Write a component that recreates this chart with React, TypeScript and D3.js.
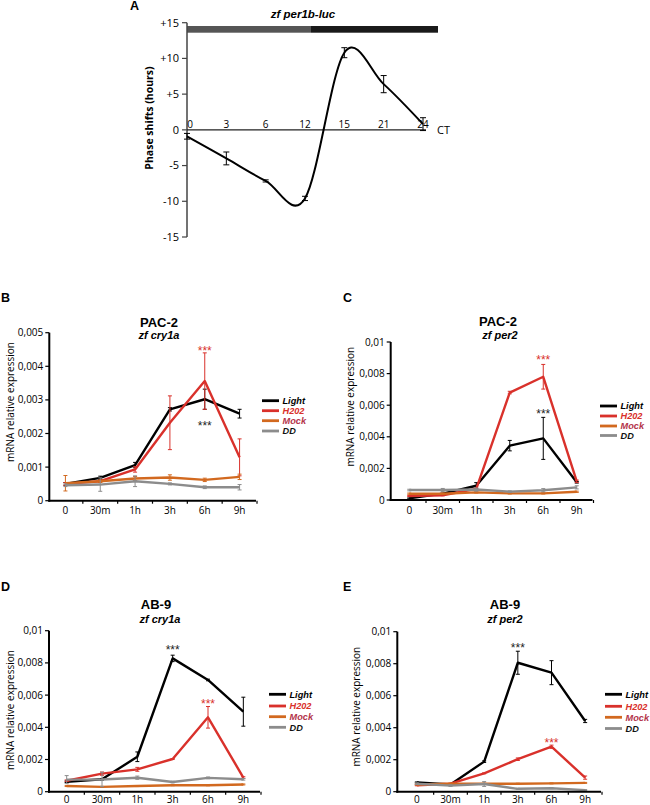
import React from "react";
import * as d3 from "d3";

// ---------- Panel A data ----------
const CT_LABELS = ["0", "3", "6", "12", "15", "21", "24"];
const PHASE_SHIFT = [-0.9, -4.0, -7.15, -9.6, 10.8, 6.4, 0.8];
const PHASE_ERR = [0.4, 0.9, 0.15, 0.3, 0.7, 1.2, 0.9];
const A_TICKS = [15, 10, 5, 0, -5, -10, -15];

// ---------- Panels B-E data ----------
const TIME_LABELS = ["0", "30m", "1h", "3h", "6h", "9h"];
const SERIES_NAMES = ["Light", "H202", "Mock", "DD"];

const B_LIGHT = [0.0005, 0.00068, 0.00106, 0.00272, 0.00302, 0.00259];
const B_LIGHT_ERR = [0.00004, 0.00005, 0.00008, 0.00005, 0.0003, 0.00013];
const B_H2O2 = [0.0005, 0.00058, 0.00093, 0.00232, 0.00356, 0.00129];
const B_H2O2_ERR = [0.00004, 0.00003, 0.00008, 0.0008, 0.00084, 0.00055];
const B_MOCK = [0.00052, 0.00058, 0.00066, 0.00069, 0.00062, 0.00071];
const B_MOCK_ERR = [0.00023, 0.00004, 0.00006, 0.00008, 0.00005, 0.00008];
const B_DD = [0.00046, 0.00048, 0.00058, 0.0005, 0.0004, 0.0004];
const B_DD_ERR = [0.00004, 0.0002, 0.00016, 0.00003, 0.00004, 0.00008];

const C_LIGHT = [0.0001, 0.0004, 0.0009, 0.00344, 0.0039, 0.00112];
const C_LIGHT_ERR = [0.00003, 0.00003, 0.0002, 0.00033, 0.00133, 0.00005];
const C_H2O2 = [0.00025, 0.0003, 0.0007, 0.0068, 0.0078, 0.00118];
const C_H2O2_ERR = [0.00003, 0.00003, 0.00005, 0.00008, 0.00078, 0.00008];
const C_MOCK = [0.0004, 0.0004, 0.00048, 0.00042, 0.00042, 0.00052];
const C_MOCK_ERR = [0.00004, 0.00004, 0.00004, 0.00004, 0.00004, 0.00004];
const C_DD = [0.00063, 0.00063, 0.00066, 0.00053, 0.00062, 0.0008];
const C_DD_ERR = [0.00005, 0.0001, 0.0001, 0.00005, 0.0001, 0.0001];

const D_LIGHT = [0.00062, 0.00077, 0.00217, 0.00828, 0.00694, 0.00497];
const D_LIGHT_ERR = [0.00005, 0.00005, 0.0003, 0.0002, 0.00005, 0.0009];
const D_H2O2 = [0.00068, 0.00112, 0.00139, 0.00203, 0.00462, 0.00088];
const D_H2O2_ERR = [0.00005, 0.0001, 0.00012, 0.00003, 0.00067, 0.00005];
const D_MOCK = [0.00035, 0.0003, 0.00035, 0.0004, 0.0004, 0.00045];
const D_MOCK_ERR = [0.00003, 0.00003, 0.00003, 0.00003, 0.00003, 0.00003];
const D_DD = [0.00075, 0.00076, 0.00087, 0.0006, 0.00086, 0.00077];
const D_DD_ERR = [0.00025, 0.00045, 0.0001, 0.00005, 0.00005, 0.00005];

const E_LIGHT = [0.00058, 0.00045, 0.00188, 0.00806, 0.00744, 0.00442];
const E_LIGHT_ERR = [0.00003, 0.00003, 0.00005, 0.00072, 0.00075, 0.0001];
const E_H2O2 = [0.0004, 0.0005, 0.00115, 0.00203, 0.00281, 0.00088];
const E_H2O2_ERR = [0.00003, 0.00003, 0.00003, 0.00008, 0.0001, 0.0001];
const E_MOCK = [0.00045, 0.0005, 0.0005, 0.0005, 0.00052, 0.00055];
const E_MOCK_ERR = [0.00003, 0.00003, 0.00003, 0.00003, 0.00003, 0.00003];
const E_DD = [0.0005, 0.00038, 0.00048, 0.00018, 0.00022, 0.0001];
const E_DD_ERR = [0.00005, 0.00005, 0.00015, 0.00003, 0.00003, 0.00003];

// ---------- styles ----------
const SERIES_COLORS = ["#000000", "#d9312b", "#d2691f", "#8c8c8c"];
const LEGEND_TEXT_COLORS = ["#000000", "#d9312b", "#b3344a", "#111111"];
const SANS = "'Open Sans', sans-serif";
const HELV = "'Liberation Sans', Arial, sans-serif";

type Panel = {
  letter: string;
  letterX: number;
  letterY: number;
  title: string;
  gene: string;
  titleX: number;
  titleY: number;
  geneX: number;
  geneY: number;
  xRange: [number, number];
  axisX: number;
  yMax: number;
  yStep: number;
  yRange: [number, number];
  labelX: number;
  labelCY: number;
  tickLabelY: number;
  legendX: number;
  legendYs: number[];
  series: number[][];
  errors: number[][];
  stars: { series: number; idx: number; y: number }[];
};

const PANELS: Panel[] = [
  {
    letter: "B", letterX: 1, letterY: 302,
    title: "PAC-2", gene: "zf cry1a", titleX: 159, titleY: 327, geneX: 159, geneY: 339,
    xRange: [48, 257], axisX: 49.3, yMax: 0.005, yStep: 0.001, yRange: [500.7, 332.7],
    labelX: 10, labelCY: 402, tickLabelY: 514, legendX: 262,
    legendYs: [400.7, 410.7, 420.7, 431],
    series: [B_LIGHT, B_H2O2, B_MOCK, B_DD],
    errors: [B_LIGHT_ERR, B_H2O2_ERR, B_MOCK_ERR, B_DD_ERR],
    stars: [{ series: 1, idx: 4, y: 348.5 }, { series: 0, idx: 4, y: 423.5 }],
  },
  {
    letter: "C", letterX: 343, letterY: 302,
    title: "PAC-2", gene: "zf per2", titleX: 498, titleY: 326, geneX: 500, geneY: 339,
    xRange: [392.5, 593.5], axisX: 390.7, yMax: 0.01, yStep: 0.002, yRange: [500, 342],
    labelX: 350, labelCY: 406.7, tickLabelY: 514, legendX: 600,
    legendYs: [406, 416, 426, 435.5],
    series: [C_LIGHT, C_H2O2, C_MOCK, C_DD],
    errors: [C_LIGHT_ERR, C_H2O2_ERR, C_MOCK_ERR, C_DD_ERR],
    stars: [{ series: 1, idx: 4, y: 357.5 }, { series: 0, idx: 4, y: 411 }],
  },
  {
    letter: "D", letterX: 1, letterY: 591,
    title: "AB-9", gene: "zf cry1a", titleX: 156, titleY: 609, geneX: 160, geneY: 623,
    xRange: [49, 261], axisX: 49, yMax: 0.01, yStep: 0.002, yRange: [791.7, 630.7],
    labelX: 10, labelCY: 710, tickLabelY: 802.5, legendX: 269,
    legendYs: [694.3, 706, 716.7, 727.3],
    series: [D_LIGHT, D_H2O2, D_MOCK, D_DD],
    errors: [D_LIGHT_ERR, D_H2O2_ERR, D_MOCK_ERR, D_DD_ERR],
    stars: [{ series: 0, idx: 3, y: 647.5 }, { series: 1, idx: 4, y: 701 }],
  },
  {
    letter: "E", letterX: 343, letterY: 591,
    title: "AB-9", gene: "zf per2", titleX: 505, titleY: 609, geneX: 505, geneY: 623,
    xRange: [400, 602], axisX: 397.3, yMax: 0.01, yStep: 0.002, yRange: [791.7, 631.7],
    labelX: 356, labelCY: 706.7, tickLabelY: 802.5, legendX: 605,
    legendYs: [694.3, 706.3, 717.3, 728.5],
    series: [E_LIGHT, E_H2O2, E_MOCK, E_DD],
    errors: [E_LIGHT_ERR, E_H2O2_ERR, E_MOCK_ERR, E_DD_ERR],
    stars: [{ series: 0, idx: 3, y: 645 }, { series: 1, idx: 4, y: 740 }],
  },
];

const fmtTick = (v: number) =>
  v === 0 ? "0" : d3.format(".3~f")(v).replace(".", ",");

function Stars({ x, y, color }: { x: number; y: number; color: string }) {
  const fs = 12;
  return (
    <text x={x} y={y + fs * 0.55} textAnchor="middle" fontFamily={HELV} fontSize={fs} fill={color}>
      ***
    </text>
  );
}

function ExprPanel({ p }: { p: Panel }) {
  const x = d3.scaleBand<string>().domain(TIME_LABELS).range(p.xRange);
  const cx = (i: number) => (x(TIME_LABELS[i]) as number) + x.bandwidth() / 2;
  const y = d3.scaleLinear().domain([0, p.yMax]).range(p.yRange);
  const ticks = d3.range(0, p.yMax + p.yStep / 2, p.yStep);
  const line = d3
    .line<number>()
    .x((_, i) => cx(i))
    .y((d) => y(d));
  const x0 = p.xRange[0];
  const x1 = p.xRange[1];
  const yb = p.yRange[0];
  const boundaries = TIME_LABELS.map((_, i) => x0 + x.step() * (i + 1));
  return (
    <g>
      <text x={p.letterX} y={p.letterY} fontFamily={HELV} fontWeight="bold" fontSize={12.5}>
        {p.letter}
      </text>
      <text x={p.titleX} y={p.titleY} textAnchor="middle" fontFamily={HELV} fontWeight="bold" fontSize={13}>
        {p.title}
      </text>
      <text x={p.geneX} y={p.geneY} textAnchor="middle" fontFamily={HELV} fontWeight="bold" fontStyle="italic" fontSize={11}>
        {p.gene}
      </text>
      <text
        transform={`translate(${p.labelX},${p.labelCY}) rotate(-90)`}
        textAnchor="middle"
        dy="0.35em"
        fontFamily={SANS}
        fontSize={10}
      >
        mRNA relative expression
      </text>
      {/* y ticks */}
      {ticks.map((t) => (
        <g key={t}>
          <line x1={p.axisX - 4} x2={p.axisX} y1={y(t)} y2={y(t)} stroke="#000" strokeWidth={1.2} />
          <text x={p.axisX - 6} y={y(t)} dy="0.35em" textAnchor="end" fontFamily={SANS} fontSize={10}>
            {fmtTick(t)}
          </text>
        </g>
      ))}
      {/* x ticks */}
      {boundaries.map((b, i) => (
        <line key={i} x1={b} x2={b} y1={yb} y2={yb + 3} stroke="#000" strokeWidth={1.2} />
      ))}
      {TIME_LABELS.map((l, i) => (
        <text key={l} x={cx(i)} y={p.tickLabelY} textAnchor="middle" fontFamily={SANS} fontSize={10}>
          {l}
        </text>
      ))}
      {/* series */}
      {p.series.map((s, si) => (
        <g key={si}>
          {s.map((v, i) => {
            const e = p.errors[si][i];
            return (
              <g key={i} stroke={SERIES_COLORS[si]} strokeWidth={1}>
                <line x1={cx(i)} x2={cx(i)} y1={y(v - e)} y2={y(v + e)} />
                <line x1={cx(i) - 2} x2={cx(i) + 2} y1={y(v - e)} y2={y(v - e)} />
                <line x1={cx(i) - 2} x2={cx(i) + 2} y1={y(v + e)} y2={y(v + e)} />
              </g>
            );
          })}
          <path d={line(s) as string} fill="none" stroke={SERIES_COLORS[si]} strokeWidth={2.4} strokeLinejoin="round" />
        </g>
      ))}
      {/* axes */}
      <line x1={p.axisX} x2={p.axisX} y1={p.yRange[1]} y2={yb + 1} stroke="#000" strokeWidth={2} />
      <line x1={p.axisX - 1} x2={x1 - 1} y1={yb} y2={yb} stroke="#000" strokeWidth={2} />
      {/* stars */}
      {p.stars.map((st, i) => (
        <Stars key={i} x={cx(st.idx)} y={st.y} color={st.series === 1 ? "#d9312b" : "#222"} />
      ))}
      {/* legend */}
      {SERIES_NAMES.map((n, i) => (
        <g key={n}>
          <line
            x1={p.legendX}
            x2={p.legendX + 17}
            y1={p.legendYs[i]}
            y2={p.legendYs[i]}
            stroke={SERIES_COLORS[i]}
            strokeWidth={2.8}
          />
          <text
            x={p.legendX + 20.5}
            y={p.legendYs[i]}
            dy="0.35em"
            fontFamily={HELV}
            fontWeight="bold"
            fontStyle="italic"
            fontSize={9.2}
            fill={LEGEND_TEXT_COLORS[i]}
          >
            {n}
          </text>
        </g>
      ))}
    </g>
  );
}

function PanelA() {
  const x = d3.scalePoint<string>().domain(CT_LABELS).range([187, 423]);
  const y = d3.scaleLinear().domain([-15, 15]).range([237, 22.7]);
  const pts = PHASE_SHIFT.map((v, i) => [x(CT_LABELS[i]) as number, y(v)] as [number, number]);
  const curve = d3.line().curve(d3.curveCardinal.tension(0))(pts) as string;
  return (
    <g>
      <text x={130} y={10} fontFamily={HELV} fontWeight="bold" fontSize={12.5}>
        A
      </text>
      <text x={303} y={18} textAnchor="middle" fontFamily={HELV} fontWeight="bold" fontStyle="italic" fontSize={11.5}>
        zf per1b-luc
      </text>
      <rect x={187} y={26} width={124} height={6.7} fill="#555555" />
      <rect x={311} y={26} width={127} height={6.7} fill="#1a1a1a" />
      <line x1={187} x2={187} y1={22.7} y2={237} stroke="#444" strokeWidth={1.5} />
      {A_TICKS.map((t) => (
        <g key={t}>
          <line x1={182} x2={187} y1={y(t)} y2={y(t)} stroke="#444" strokeWidth={1.2} />
          <text x={179} y={y(t)} dy="0.35em" textAnchor="end" fontFamily={SANS} fontSize={11}>
            {t > 0 ? `+${t}` : `${t}`}
          </text>
        </g>
      ))}
      <line x1={187} x2={426} y1={y(0)} y2={y(0)} stroke="#222" strokeWidth={1.2} />
      {CT_LABELS.map((l) => (
        <text key={l} x={(x(l) as number) + (l === "0" ? 3 : 0)} y={y(0) - 2} textAnchor="middle" fontFamily={SANS} fontSize={10}>
          {l}
        </text>
      ))}
      <text x={437} y={y(0)} dy="0.35em" fontFamily={SANS} fontSize={11}>
        CT
      </text>
      <text
        transform={`translate(149,118) rotate(-90)`}
        textAnchor="middle"
        dy="0.35em"
        fontFamily={SANS}
        fontWeight="bold"
        fontSize={10.5}
      >
        Phase shifts (hours)
      </text>
      {PHASE_SHIFT.map((v, i) => {
        const xc = x(CT_LABELS[i]) as number;
        const e = PHASE_ERR[i];
        return (
          <g key={i} stroke="#000" strokeWidth={1}>
            <line x1={xc} x2={xc} y1={y(v - e)} y2={y(v + e)} />
            <line x1={xc - 3} x2={xc + 3} y1={y(v - e)} y2={y(v - e)} />
            <line x1={xc - 3} x2={xc + 3} y1={y(v + e)} y2={y(v + e)} />
          </g>
        );
      })}
      <path d={curve} fill="none" stroke="#000" strokeWidth={2} />
    </g>
  );
}

export default function App() {
  return (
    <svg
      width={650}
      height={805}
      viewBox="0 0 650 805"
      style={{ position: "absolute", left: 0, top: 0, background: "#fff" }}
    >
      <rect width={650} height={805} fill="#fff" />
      <PanelA />
      {PANELS.map((p) => (
        <ExprPanel key={p.letter} p={p} />
      ))}
    </svg>
  );
}
